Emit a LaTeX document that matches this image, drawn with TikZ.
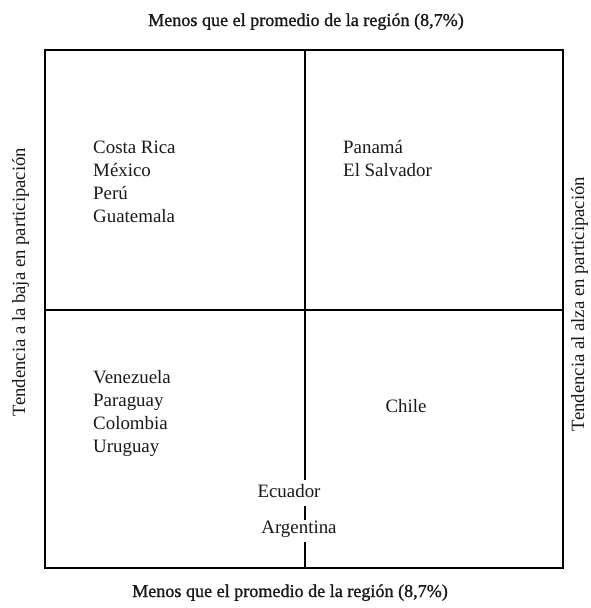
\documentclass[tikz,border=0pt]{standalone}
\usepackage{fontspec}
\setmainfont{Liberation Serif}
\newfontfamily\titlefont[FakeBold=1.2]{Liberation Serif}
\begin{document}
\begin{tikzpicture}[x=1pt,y=-1pt,
  frame/.style={line width=1.1pt,draw=black},
  lbl/.style={font=\fontsize{18.9}{23}\selectfont,text=black!90,inner sep=0pt,anchor=base west},
  ttl/.style={font=\titlefont\fontsize{18.1}{20}\selectfont,text=black!90,inner sep=0pt,anchor=base},
  side/.style={font=\fontsize{18.7}{20}\selectfont,text=black!90,inner sep=0pt,rotate=90,anchor=base},
  cut/.style={fill=white,inner xsep=1pt,inner ysep=0pt,anchor=base,font=\fontsize{18.9}{20}\selectfont,text=black!90}]
\useasboundingbox (0,0) rectangle (590,608);
\coordinate (tl) at (45,50);
\coordinate (br) at (563,568);
\coordinate (vt) at (305,50);
\coordinate (vb) at (305,568);
\coordinate (hl) at (45,310);
\coordinate (hr) at (563,310);
\draw[frame] (tl) rectangle (br);
\draw[frame] (vt) -- (vb);
\draw[frame] (hl) -- (hr);
\node[ttl] (top) at (306,26) {Menos que el promedio de la región (8,7\%)};
\node[ttl] (bot) at (290,597) {Menos que el promedio de la región (8,7\%)};
\node[side] (left) at (25,282) {Tendencia a la baja en participación};
\node[side] (right) at (584,304) {Tendencia al alza en participación};
\node[lbl] (cr) at (93,153) {Costa Rica};
\node[lbl] (mx) at (93,176) {México};
\node[lbl] (pe) at (93,199) {Perú};
\node[lbl] (gt) at (93,222) {Guatemala};
\node[lbl] (pa) at (343,153) {Panamá};
\node[lbl] (sv) at (343,176) {El Salvador};
\node[lbl] (ve) at (93,383) {Venezuela};
\node[lbl] (py) at (93,406) {Paraguay};
\node[lbl] (co) at (93,429) {Colombia};
\node[lbl] (uy) at (93,452) {Uruguay};
\node[lbl,anchor=base] (chile) at (406,412) {Chile};
\node[cut,text height=17pt,text depth=9pt] (ecu) at (289,497) {Ecuador};
\node[cut,text height=13pt,text depth=9pt] (arg) at (299,533) {Argentina};
\end{tikzpicture}
\end{document}
